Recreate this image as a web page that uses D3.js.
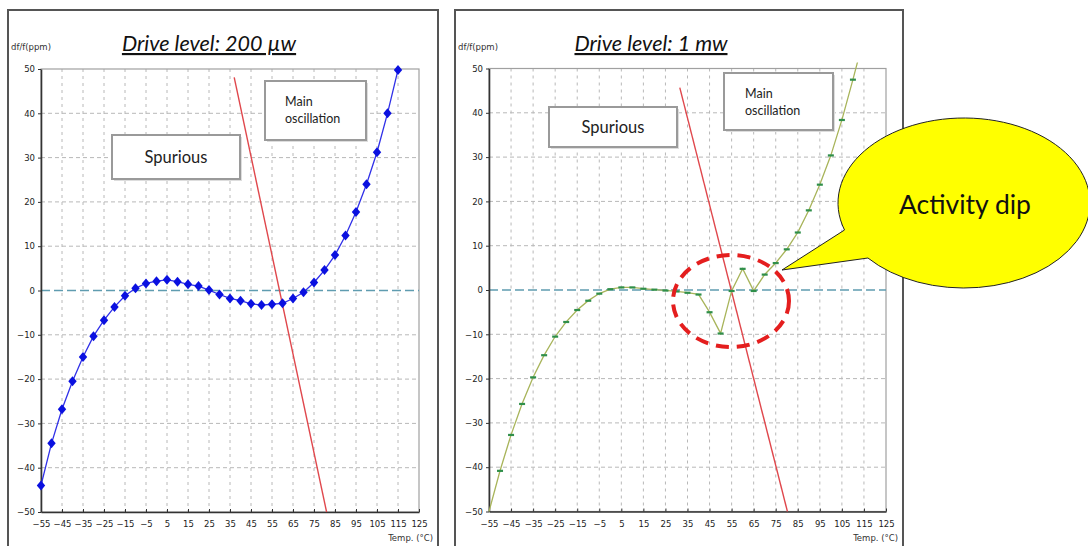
<!DOCTYPE html>
<html>
<head>
<meta charset="utf-8">
<script src="https://cdn.jsdelivr.net/npm/d3@7"></script>
<style>
  body { margin: 0; background: #fff; }
  svg { display: block; }
</style>
</head>
<body>
<svg id="chart" width="1088" height="546"></svg>
<script>
// temperatures (°C) of the measured points
var temps = [-55, -50, -45, -40, -35, -30, -25, -20, -15, -10, -5, 0, 5, 10, 15, 20, 25, 30, 35, 40,
  45, 50, 55, 60, 65, 70, 75, 80, 85, 90, 95, 100, 105, 110, 115];

// df/f (ppm) at drive level 200 µW
var drive200Values = [-44, -34.5, -26.8, -20.5, -15, -10.3, -6.7, -3.7, -1.2, 0.5, 1.6, 2.1, 2.4, 2.0, 1.4, 1.0,
  0.1, -0.9, -1.8, -2.3, -3.0, -3.3, -3.1, -2.9, -1.8, -0.4, 1.8, 4.6, 8.0, 12.4, 17.7, 24.0, 31.2, 40.0, 49.8];

// df/f (ppm) at drive level 1 mW (activity dip around 45..65 °C)
var drive1Values = [-50, -40.8, -32.7, -25.7, -19.7, -14.7, -10.5, -7.2, -4.5, -2.4, -0.8, 0.2, 0.6, 0.6, 0.3,
  0.1, -0.1, -0.3, -0.6, -1.0, -5.0, -9.8, -0.2, 4.8, -0.2, 3.5, 6.1, 9.2, 13.0, 18.0, 23.8, 30.4, 38.4, 47.5, 57];

// main oscillation line (red), two end points per panel
var mainOsc200Temps = [37, 81];
var mainOsc200Values = [48.1, -50];
var mainOsc1Temps = [31.5, 80.3];
var mainOsc1Values = [45.7, -50];

var xTicks = [-55, -45, -35, -25, -15, -5, 5, 15, 25, 35, 45, 55, 65, 75, 85, 95, 105, 115, 125];
var yTicks = [-50, -40, -30, -20, -10, 0, 10, 20, 30, 40, 50];

var svg = d3.select("#chart");
var tickFont = "'DejaVu Sans', sans-serif";
var labelFont = "Lato, 'Open Sans', sans-serif";

function BuildPanel(opts) {
  var g = svg.append("g");

  // outer frame of the panel
  g.append("rect")
    .attr("x", opts.frame[0]).attr("y", opts.frame[1])
    .attr("width", opts.frame[2] - opts.frame[0]).attr("height", 600)
    .attr("fill", "#fff").attr("stroke", "#555").attr("stroke-width", 2);

  var x = d3.scaleLinear().domain([-55, 125]).range([opts.left, opts.right]);
  var y = d3.scaleLinear().domain([-50, 50]).range([opts.bottom, opts.top]);

  // grid
  g.append("g").selectAll("line").data(xTicks.slice(1, -1)).enter().append("line")
    .attr("x1", function (d) { return x(d); }).attr("x2", function (d) { return x(d); })
    .attr("y1", opts.top).attr("y2", opts.bottom)
    .attr("stroke", "#b8b8b8").attr("stroke-width", 1).attr("stroke-dasharray", "3,4");
  g.append("g").selectAll("line").data(yTicks.filter(function (d) { return d != 0 && Math.abs(d) != 50; })).enter().append("line")
    .attr("x1", opts.left).attr("x2", opts.right)
    .attr("y1", function (d) { return y(d); }).attr("y2", function (d) { return y(d); })
    .attr("stroke", "#b8b8b8").attr("stroke-width", 1).attr("stroke-dasharray", "4,3");

  // plot area border (top/right light)
  g.append("rect")
    .attr("x", opts.left).attr("y", opts.top)
    .attr("width", opts.right - opts.left).attr("height", opts.bottom - opts.top)
    .attr("fill", "none").attr("stroke", "#a0a0a0").attr("stroke-width", 1.2);

  // zero line
  g.append("line")
    .attr("x1", opts.left).attr("x2", opts.right)
    .attr("y1", y(0)).attr("y2", y(0))
    .attr("stroke", "#5f9cb0").attr("stroke-width", 1.6).attr("stroke-dasharray", "9,4");

  // axes
  var xAxis = d3.axisBottom(x).tickValues(xTicks).tickSize(3).tickSizeOuter(0);
  var yAxis = d3.axisLeft(y).tickValues(yTicks).tickSize(3).tickSizeOuter(0);
  var gx = g.append("g").attr("transform", "translate(0," + opts.bottom + ")").call(xAxis);
  var gy = g.append("g").attr("transform", "translate(" + opts.left + ",0)").call(yAxis);
  [gx, gy].forEach(function (ax) {
    ax.select(".domain").attr("stroke", "#333").attr("stroke-width", 1.6);
    ax.selectAll(".tick line").attr("stroke", "#333");
    ax.selectAll(".tick text").attr("font-family", tickFont).attr("font-size", 8.5).attr("fill", "#222");
  });
  gx.selectAll(".tick text").attr("dy", "1.1em");
  gx.selectAll(".tick line").attr("y2", -3);

  // axis titles
  g.append("text").attr("x", opts.frame[0] + 3).attr("y", 50)
    .attr("font-family", tickFont).attr("font-size", 8.5).attr("fill", "#333").text("df/f(ppm)");
  g.append("text").attr("x", opts.frame[2] - 5).attr("y", 541).attr("text-anchor", "end")
    .attr("font-family", tickFont).attr("font-size", 8.5).attr("fill", "#333").text("Temp. (\u00b0C)");

  // title
  g.append("text").attr("x", opts.titleX).attr("y", 51).attr("text-anchor", "middle")
    .attr("font-family", labelFont).attr("font-style", "italic").attr("font-size", 21.5)
    .attr("fill", "#111").attr("text-decoration", "underline").text(opts.title);

  // label boxes
  opts.boxes.forEach(function (b) {
    g.append("rect").attr("x", b.x + 2).attr("y", b.y + 2).attr("width", b.w).attr("height", b.h)
      .attr("fill", "#ddd");
    g.append("rect").attr("x", b.x).attr("y", b.y).attr("width", b.w).attr("height", b.h)
      .attr("fill", "#fff").attr("stroke", "#9a9a9a").attr("stroke-width", 2);
    var t = g.append("text").attr("font-family", labelFont).attr("font-size", b.size).attr("fill", "#222");
    b.lines.forEach(function (ln, i) {
      t.append("tspan").attr("x", b.tx).attr("y", b.ty + i * b.size * 1.35)
        .attr("text-anchor", b.anchor).text(ln);
    });
  });

  // main oscillation line
  g.append("line")
    .attr("x1", x(opts.oscT[0])).attr("y1", y(opts.oscV[0]))
    .attr("x2", x(opts.oscT[1])).attr("y2", y(opts.oscV[1]))
    .attr("stroke", "#e0474c").attr("stroke-width", 1.4);

  // clip for the series
  var clipId = "clip" + opts.id;
  g.append("clipPath").attr("id", clipId).append("rect")
    .attr("x", opts.left - 6).attr("y", opts.top - 6)
    .attr("width", opts.right - opts.left + 12).attr("height", opts.bottom - opts.top + 12);

  var pts = temps.map(function (t, i) { return [t, opts.values[i]]; });
  var line = d3.line().x(function (d) { return x(d[0]); }).y(function (d) { return y(d[1]); });
  var sg = g.append("g").attr("clip-path", "url(#" + clipId + ")");
  sg.append("path").datum(pts).attr("d", line)
    .attr("fill", "none").attr("stroke", opts.lineColor).attr("stroke-width", opts.lineWidth);

  if (opts.marker == "diamond") {
    sg.selectAll(".pt").data(pts).enter().append("path")
      .attr("d", function (d) {
        var cx = x(d[0]), cy = y(d[1]);
        return "M" + cx + "," + (cy - 5) + "L" + (cx + 4.2) + "," + cy + "L" + cx + "," + (cy + 5) + "L" + (cx - 4.2) + "," + cy + "Z";
      })
      .attr("fill", "#0a10e0");
  } else {
    sg.selectAll(".pt").data(pts.slice(1)).enter().append("rect")
      .attr("x", function (d) { return x(d[0]) - 3; })
      .attr("y", function (d) { return y(d[1]) - 1; })
      .attr("width", 6).attr("height", 2.2)
      .attr("fill", "#2f8f4a");
  }
  return { x: x, y: y, g: g };
}

BuildPanel({
  id: 1, frame: [8, 10, 438], left: 41, right: 419, top: 69, bottom: 512,
  title: "Drive level: 200 \u00b5w", titleX: 209,
  values: drive200Values, oscT: mainOsc200Temps, oscV: mainOsc200Values,
  lineColor: "#3030e8", lineWidth: 1.3, marker: "diamond",
  boxes: [
    { x: 112, y: 135, w: 128, h: 44, lines: ["Spurious"], tx: 176, ty: 163, size: 16.5, anchor: "middle" },
    { x: 265, y: 81, w: 101, h: 59, lines: ["Main", "oscillation"], tx: 285, ty: 106, size: 12.5, anchor: "start" }
  ]
});

BuildPanel({
  id: 2, frame: [455, 10, 903], left: 489, right: 886, top: 68.5, bottom: 511.5,
  title: "Drive level: 1 mw", titleX: 651,
  values: drive1Values, oscT: mainOsc1Temps, oscV: mainOsc1Values,
  lineColor: "#a8b45a", lineWidth: 1.3, marker: "dash",
  boxes: [
    { x: 549, y: 107, w: 128, h: 40, lines: ["Spurious"], tx: 613, ty: 133, size: 16.5, anchor: "middle" },
    { x: 724, y: 73, w: 109, h: 57, lines: ["Main", "oscillation"], tx: 745, ty: 98, size: 12.5, anchor: "start" }
  ]
});

// activity dip marker (red dashed ellipse)
svg.append("ellipse")
  .attr("cx", 731).attr("cy", 301).attr("rx", 58).attr("ry", 46)
  .attr("fill", "none").attr("stroke", "#e41e1e").attr("stroke-width", 4)
  .attr("stroke-dasharray", "13,8");

// speech bubble callout
var cx = 964, cy = 203, rx = 126, ry = 85;
function onEllipse(yy) {
  var k = (yy - cy) / ry;
  return [cx - rx * Math.sqrt(1 - k * k), yy];
}
var a = onEllipse(230), b = onEllipse(258), tip = [782, 270];
var bubble = "M" + a[0] + "," + a[1] + "L" + tip[0] + "," + tip[1] + "L" + b[0] + "," + b[1] +
  "A" + rx + "," + ry + " 0 1 0 " + a[0] + "," + a[1] + "Z";
svg.append("path").attr("d", bubble)
  .attr("fill", "#ffff00").attr("stroke", "#222").attr("stroke-width", 1);
svg.append("text").attr("x", 965).attr("y", 214).attr("text-anchor", "middle")
  .attr("font-family", labelFont).attr("font-size", 26.5).attr("fill", "#111").text("Activity dip");
</script>
</body>
</html>
